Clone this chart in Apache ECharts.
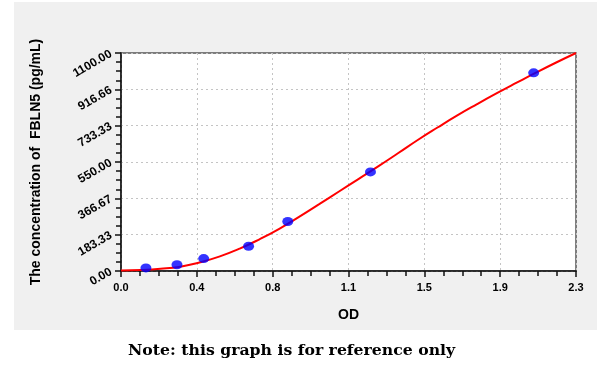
<!DOCTYPE html>
<html>
<head>
<meta charset="utf-8">
<script src="https://cdn.jsdelivr.net/npm/echarts@6/dist/echarts.min.js"></script>
<style>
  html, body { margin: 0; padding: 0; background: #fff; }
  #chart { width: 600px; height: 377px; }
</style>
</head>
<body>
<div id="chart"></div>
<script>
// standard points (OD, concentration)
const stdOD = [0.126, 0.283, 0.418, 0.645, 0.843, 1.261, 2.086];
const stdConc = [15.63, 31.25, 62.5, 125, 250, 500, 1000];

// fitted curve, every 0.1 OD
const curveOD = [0, 0.1, 0.2, 0.3, 0.4, 0.5, 0.6, 0.7, 0.8, 0.9, 1.0, 1.1, 1.2, 1.3, 1.4, 1.5, 1.6, 1.7, 1.8, 1.9, 2.0, 2.1, 2.2, 2.3];
const curveConc = [3, 5, 11, 22, 44, 74, 113, 160, 213, 273, 336, 400, 464, 528, 594, 661, 724, 785, 842, 897, 950, 1002, 1052, 1100];

const xTickLabels = ['0.0', '0.4', '0.8', '1.1', '1.5', '1.9', '2.3'];
const yTickLabels = ['0.00', '183.33', '366.67', '550.00', '733.33', '916.66', '1100.00'];

const chart = echarts.init(document.getElementById('chart'));

const font = 'Liberation Sans, Arial, sans-serif';
const tickColor = '#111';

// white frame round the grey panel
const whiteRect = (x, y, w, h) => ({
	type: 'rect',
	silent: true,
	shape: { x: x, y: y, width: w, height: h },
	style: { fill: '#fff' }
});

chart.setOption({
	animation: false,
	backgroundColor: '#f0f0f0',
	graphic: [
		whiteRect(0, 0, 600, 2),
		whiteRect(0, 0, 14, 377),
		whiteRect(597, 0, 3, 377),
		whiteRect(0, 330, 600, 47),
		{
			type: 'text',
			left: 128,
			top: 343,
			style: {
				text: 'Note: this graph is for reference only',
				fill: '#000',
				font: 'bold 15.7px "DejaVu Serif", serif'
			}
		}
	],
	grid: {
		left: 121,
		right: 24,
		top: 53,
		bottom: 106,
		show: true,
		backgroundColor: '#fff',
		borderColor: '#555',
		borderWidth: 1.5
	},
	xAxis: {
		type: 'value',
		min: 0,
		max: 2.3,
		interval: 2.3 / 6,
		name: 'OD',
		nameLocation: 'middle',
		nameGap: 37,
		nameTextStyle: { color: '#000', fontWeight: 'bold', fontSize: 14, fontFamily: font },
		axisLine: { show: true, lineStyle: { color: tickColor, width: 1.5 } },
		axisTick: { show: true, length: 6, lineStyle: { color: tickColor, width: 1.5 } },
		minorTick: { show: true, splitNumber: 4, length: 5, lineStyle: { color: tickColor, width: 1.5 } },
		axisLabel: {
			margin: 11,
			color: '#000',
			fontFamily: font,
			fontWeight: 'bold',
			fontSize: 11,
			formatter: (v, i) => xTickLabels[i] !== undefined ? xTickLabels[i] : ''
		},
		splitLine: { show: true, lineStyle: { color: '#c4c4c4', type: [2, 3] } }
	},
	yAxis: {
		type: 'value',
		min: 0,
		max: 1100,
		interval: 1100 / 6,
		name: 'The concentration of  FBLN5 (pg/mL)',
		nameLocation: 'middle',
		nameGap: 78,
		nameTextStyle: { color: '#000', fontWeight: 'bold', fontSize: 14, fontFamily: font },
		axisLine: { show: true, lineStyle: { color: tickColor, width: 1.5 } },
		axisTick: { show: true, length: 6, lineStyle: { color: tickColor, width: 1.5 } },
		minorTick: { show: true, splitNumber: 4, length: 5, lineStyle: { color: tickColor, width: 1.5 } },
		axisLabel: {
			margin: 10,
			rotate: 30,
			color: '#000',
			fontFamily: font,
			fontWeight: 'bold',
			fontSize: 12,
			formatter: (v, i) => yTickLabels[i] !== undefined ? yTickLabels[i] : ''
		},
		splitLine: { show: true, lineStyle: { color: '#c4c4c4', type: [2, 3] } }
	},
	series: [
		{
			name: 'curve',
			type: 'line',
			smooth: true,
			showSymbol: false,
			lineStyle: { color: '#ff0000', width: 2 },
			data: curveOD.map((x, i) => [x, curveConc[i]]),
			z: 2
		},
		{
			name: 'standards',
			type: 'scatter',
			symbol: 'circle',
			symbolSize: [11, 9],
			itemStyle: { color: '#0000ff' },
			data: stdOD.map((x, i) => [x, stdConc[i]]),
			z: 3
		}
	]
});
</script>
</body>
</html>
